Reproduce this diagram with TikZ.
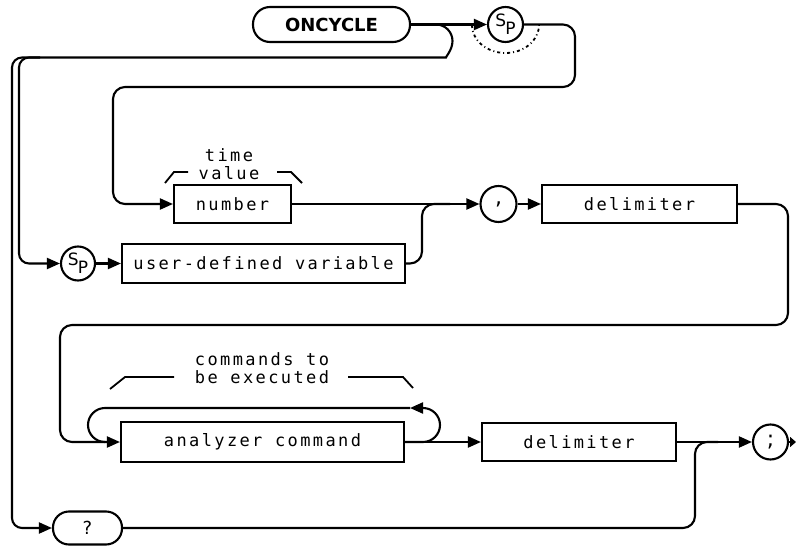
\documentclass[tikz,border=0pt]{standalone}
\usepackage{fontspec}
\setmainfont{DejaVu Sans}
\newfontfamily\plotfont[LetterSpace=14]{DejaVu Sans Mono}
\usetikzlibrary{arrows.meta,positioning,calc}
\newcommand{\spsym}{{\rmfamily\fontsize{17}{17}\selectfont\raisebox{3.5pt}{S}\kern-1pt\raisebox{-4.5pt}{P}}}

\begin{document}
\begin{tikzpicture}[x=1pt,y=1pt,line width=2.1pt,>={Triangle[length=13pt,width=11pt]},
  font=\plotfont\fontsize{17}{18}\selectfont,
  box/.style={draw,inner sep=0pt,minimum height=38pt},
  pill/.style={draw,rounded corners=16pt,inner sep=0pt,minimum height=33pt},
  ring/.style={draw,circle,inner sep=0pt,minimum size=35pt},
  brk/.style={line width=1.8pt}]
  \useasboundingbox (0,0) rectangle (796,-546);

  \node[pill,rounded corners=17pt,minimum width=157pt,minimum height=35pt,font=\rmfamily\bfseries\fontsize{18}{18}\selectfont] (oncycle) at (331.5,-24.5) {ONCYCLE};
  \node[ring] (sptop) at (505.5,-24.5) {\spsym};
  \draw[dash pattern=on 3pt off 3pt on 1pt off 3pt,line width=1.8pt] (472,-25) arc[start angle=180,end angle=360,x radius=33.5,y radius=28];

  \node[box,minimum width=117pt] (number) at (232.5,-204) {number};
  \node[align=center] (timelbl) at (229,-164) {time\\value};
  \draw[brk] (165,-183) -- (174,-172) -- (188,-172) (277,-172) -- (291,-172) -- (302,-183);

  \node[ring,minimum size=34pt] (spleft) at (78,-263.5) {\spsym};
  \node[box,minimum width=283pt,minimum height=39pt] (udv) at (263.5,-263.5) {user-defined variable};
  \node[ring,minimum size=36pt,font=\rmfamily\fontsize{22}{22}\selectfont] (comma) at (498.5,-204) {,};
  \node[box,minimum width=195pt] (delimA) at (639.5,-204) {delimiter};

  \node[align=center] (cmdlbl) at (262,-368) {commands to\\be executed};
  \draw[brk] (110,-389) -- (125,-377) -- (174,-377) (348,-377) -- (403,-377) -- (413,-388);
  \node[box,minimum width=283pt,minimum height=40pt] (cmd) at (262.5,-442) {analyzer command};
  \node[box,minimum width=194pt] (delimB) at (579,-442) {delimiter};
  \node[ring,font=\rmfamily\fontsize{22}{22}\selectfont] (semi) at (770.5,-442) {;};
  \node[pill,minimum width=69pt,font=\rmfamily\fontsize{18}{18}\selectfont] (query) at (87.5,-528) {?};

  \coordinate (topR) at (575,-87);
  \coordinate (innerL) at (113,-87);
  \coordinate (bump) at (436,-24.5);
  \coordinate (outerA) at (19,-57.5);
  \coordinate (outerB) at (40,-57.5);
  \coordinate (outerC) at (12,-57.5);
  \coordinate (udvUp) at (422,-204);
  \coordinate (join) at (450,-204);
  \coordinate (rightR) at (788,-325);
  \coordinate (leftR) at (60,-325);
  \coordinate (loopR) at (423,-442);
  \coordinate (loopTip) at (410,-408);
  \coordinate (loopL) at (105,-408);
  \coordinate (qUp) at (695,-442);
  \coordinate (qJoin) at (718,-442);
  \coordinate (stop) at (796,-442);

  \draw[->] (oncycle) -- (sptop);
  \draw[->,rounded corners=12pt] (sptop.east) -| (topR) -- (innerL) |- (number.west);
  \draw[->,rounded corners=10pt] (bump) arc[start angle=90,end angle=-90,radius=16.5] -- (outerA) |- (spleft.west);
  \draw[->,rounded corners=10pt] (outerB) -- (outerC) |- (query.west);
  \draw[->] (spleft) -- (udv);
  \draw[rounded corners=12pt] (udv.east) -| (udvUp) -- (join);
  \draw[->] (number) -- (comma);
  \draw[->] (comma) -- (delimA);
  \draw[->,rounded corners=12pt] (delimA.east) -| (rightR) -- (leftR) |- (cmd.west);
  \draw[->] (cmd.east) -- (loopR) arc[start angle=-90,end angle=90,radius=17] -- (loopTip);
  \draw (loopTip) -- (loopL) arc[start angle=90,end angle=270,radius=17];
  \draw[->] (cmd) -- (delimB);
  \draw[->] (delimB) -- (semi);
  \draw[rounded corners=12pt] (query.east) -| (qUp) -- (qJoin);
  \draw[-{Triangle[length=6pt,width=10pt]}] (semi.east) -- (stop);
\end{tikzpicture}
\end{document}
